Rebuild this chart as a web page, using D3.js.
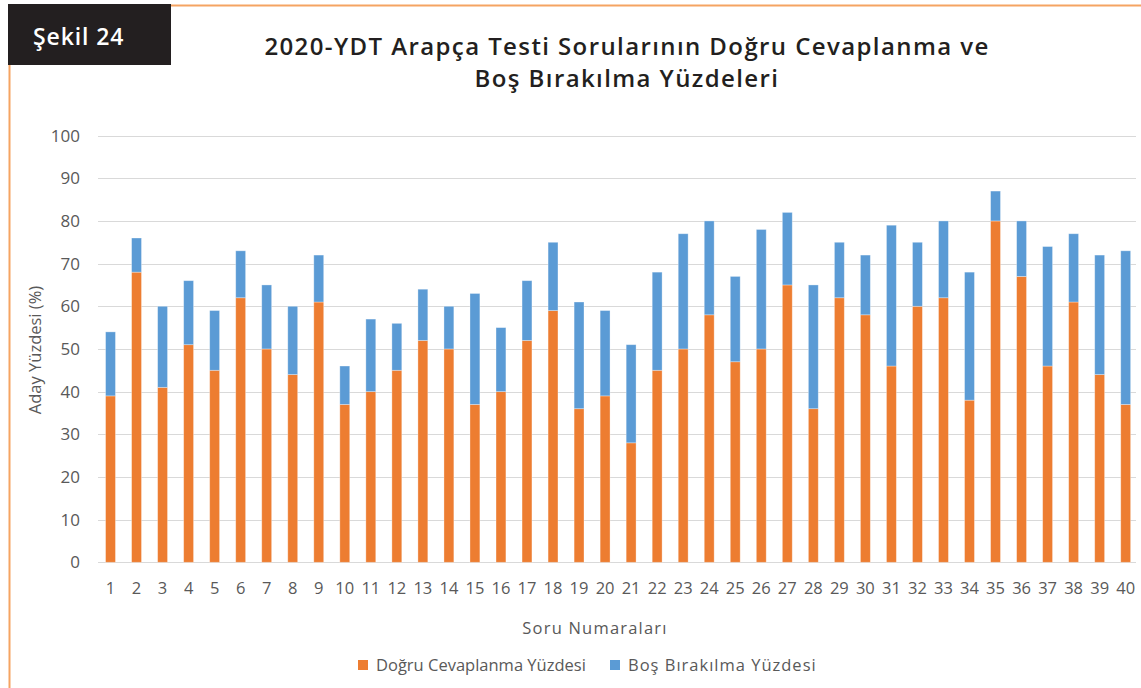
<!DOCTYPE html>
<html>
<head>
<meta charset="utf-8">
<script src="https://cdn.jsdelivr.net/npm/d3@7"></script>
<style>
  body { margin: 0; background: #fff; }
  svg { display: block; }
</style>
</head>
<body>
<div id="chart"></div>
<script>
// data
let questions = d3.range(1, 41).map(String);
let dogru = [39, 68, 41, 51, 45, 62, 50, 44, 61, 37, 40, 45, 52, 50, 37, 40, 52, 59, 36, 39,
             28, 45, 50, 58, 47, 50, 65, 36, 62, 58, 46, 60, 62, 38, 80, 67, 46, 61, 44, 37];
let bos = [15, 8, 19, 15, 14, 11, 15, 16, 11, 9, 17, 11, 12, 10, 26, 15, 14, 16, 25, 20,
           23, 23, 27, 22, 20, 28, 17, 29, 13, 14, 33, 15, 18, 30, 7, 13, 28, 16, 28, 36];
let yTicks = [0, 10, 20, 30, 40, 50, 60, 70, 80, 90, 100];
let seriesNames = ['Doğru Cevaplanma Yüzdesi', 'Boş Bırakılma Yüzdesi'];
let colors = ['#ED7D31', '#5B9BD5'];

let W = 1141, H = 688;
let svg = d3.select('#chart').append('svg')
    .attr('width', W)
    .attr('height', H);

// orange frame + label box
svg.append('path')
    .attr('d', `M171,5.5 H${W} M9.5,64 V${H}`)
    .attr('stroke', '#F5A462')
    .attr('stroke-width', 2)
    .attr('fill', 'none');
svg.append('rect')
    .attr('x', 8).attr('y', 4)
    .attr('width', 163).attr('height', 61)
    .attr('fill', '#231F20');
svg.append('text')
    .attr('x', 33).attr('y', 45)
    .attr('fill', '#fff')
    .attr('font-family', 'Open Sans')
    .attr('font-weight', 600)
    .attr('font-size', 23)
    .attr('letter-spacing', 0.9)
    .text('Şekil 24');

let title = svg.append('text')
    .attr('text-anchor', 'middle')
    .attr('font-family', 'Open Sans')
    .attr('font-weight', 600)
    .attr('font-size', 24)
    .attr('letter-spacing', 1.4)
    .attr('fill', '#231F20');
title.append('tspan').attr('x', 627).attr('y', 55)
    .text('2020-YDT Arapça Testi Sorularının Doğru Cevaplanma ve');
title.append('tspan').attr('x', 627).attr('y', 87)
    .text('Boş Bırakılma Yüzdeleri');

let x = d3.scaleBand()
    .domain(questions)
    .range([97.5, 1138.7])
    .paddingInner(0.62)
    .paddingOuter(0.31);

let y = d3.scaleLinear()
    .domain([0, 100])
    .range([562.3, 135.6]);

// gridlines
svg.append('g')
    .selectAll('line').data(yTicks).enter()
    .append('line')
    .attr('x1', 98).attr('x2', 1136)
    .attr('y1', d => Math.round(y(d)) + 0.5)
    .attr('y2', d => Math.round(y(d)) + 0.5)
    .attr('stroke', '#D9D9D9')
    .attr('stroke-width', 1);

// y labels
svg.append('g')
    .selectAll('text').data(yTicks).enter()
    .append('text')
    .attr('x', 80)
    .attr('y', d => y(d) + 6)
    .attr('text-anchor', 'end')
    .attr('font-family', 'Open Sans')
    .attr('font-size', 17)
    .attr('fill', '#595959')
    .text(d => d);

// stacked bars
let rows = questions.map((q, i) => ({q: q, dogru: dogru[i], bos: bos[i]}));
let stack = d3.stack().keys(['dogru', 'bos'])(rows);

svg.append('g')
    .selectAll('g').data(stack).enter()
    .append('g')
    .attr('fill', (d, i) => colors[i])
    .selectAll('rect').data(d => d).enter()
    .append('rect')
    .attr('x', d => x(d.data.q))
    .attr('width', x.bandwidth())
    .attr('y', d => y(d[1]))
    .attr('height', d => y(d[0]) - y(d[1]))
    .attr('stroke', '#fff')
    .attr('stroke-opacity', 0.4)
    .attr('stroke-width', 0.8);

// x labels
svg.append('g')
    .selectAll('text').data(questions).enter()
    .append('text')
    .attr('x', d => x(d) + x.bandwidth() / 2)
    .attr('y', 594)
    .attr('text-anchor', 'middle')
    .attr('font-family', 'Open Sans')
    .attr('font-size', 16.5)
    .attr('fill', '#595959')
    .text(d => d);

// axis titles
svg.append('text')
    .attr('x', 595).attr('y', 634)
    .attr('text-anchor', 'middle')
    .attr('font-family', 'Open Sans')
    .attr('font-size', 16.5)
    .attr('fill', '#595959')
    .attr('letter-spacing', 1.2)
    .text('Soru Numaraları');

svg.append('text')
    .attr('transform', 'translate(41,350) rotate(-90)')
    .attr('text-anchor', 'middle')
    .attr('font-family', 'Open Sans')
    .attr('font-size', 16.5)
    .attr('fill', '#595959')
    .text('Aday Yüzdesi (%)');

// legend
let legendX = [358, 610];
let legendSpacing = [0, 1];
let legend = svg.append('g')
    .selectAll('g').data(seriesNames).enter()
    .append('g')
    .attr('transform', (d, i) => `translate(${legendX[i]},660)`);
legend.append('rect')
    .attr('width', 10).attr('height', 10)
    .attr('fill', (d, i) => colors[i]);
legend.append('text')
    .attr('x', 18).attr('y', 11)
    .attr('font-family', 'Open Sans')
    .attr('font-size', 16.5)
    .attr('letter-spacing', (d, i) => legendSpacing[i])
    .attr('fill', '#595959')
    .text(d => d);
</script>
</body>
</html>
